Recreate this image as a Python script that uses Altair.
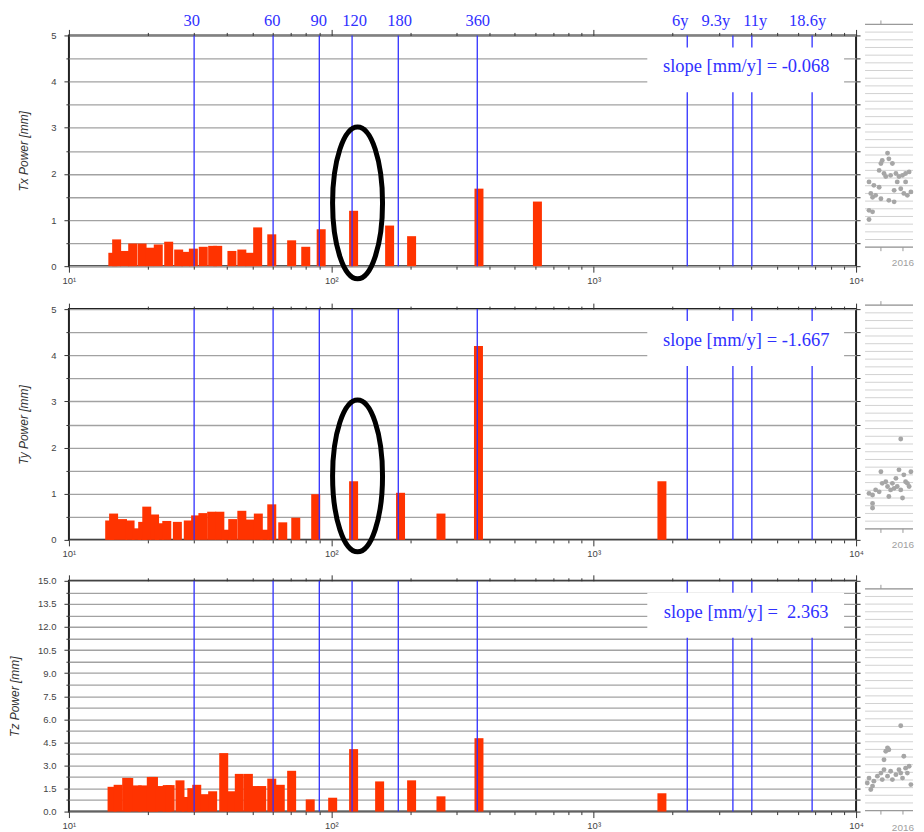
import altair as alt
import pandas as pd

# ---------------- data ----------------
tx_period = [14.7, 15.2, 16.3, 17.5, 19.0, 20.3, 21.9, 24.0, 26.2, 27.9, 29.8, 32.5, 35.3, 36.9,
             41.8, 45.6, 48.9, 52.4, 59.3, 70.6, 79.9, 91.5, 121.6, 166.8, 202.3, 365.4, 610.3]
tx_power = [0.29, 0.58, 0.33, 0.49, 0.49, 0.40, 0.47, 0.53, 0.36, 0.31, 0.38, 0.42, 0.44, 0.44,
            0.33, 0.36, 0.29, 0.84, 0.69, 0.56, 0.42, 0.80, 1.20, 0.88, 0.65, 1.68, 1.40]

ty_period = [14.3, 14.8, 16.0, 17.1, 18.1, 19.1, 19.8, 21.2, 22.1, 23.6, 25.9, 28.5, 30.4, 32.4,
             35.0, 37.6, 39.8, 42.1, 45.6, 49.1, 52.7, 55.7, 59.3, 65.3, 73.2, 87.2, 121.6, 183.6,
             261.8, 363.8, 1820.0]
ty_power = [0.42, 0.57, 0.45, 0.42, 0.25, 0.39, 0.72, 0.55, 0.36, 0.41, 0.39, 0.42, 0.53, 0.58,
            0.61, 0.61, 0.22, 0.45, 0.63, 0.44, 0.57, 0.22, 0.77, 0.38, 0.48, 0.99, 1.27, 1.02,
            0.57, 4.20, 1.27]

tz_period = [14.6, 15.4, 16.6, 16.9, 18.2, 19.1, 20.6, 21.0, 22.3, 23.7, 24.3, 26.5, 28.0, 29.4,
             30.7, 32.9, 35.3, 38.9, 41.8, 44.6, 48.3, 51.1, 54.3, 59.3, 63.9, 70.6, 83.1, 101.2,
             121.6, 152.8, 202.3, 261.8, 365.4, 1820.0]
tz_power = [1.61, 1.74, 2.19, 2.19, 1.70, 1.70, 2.25, 2.25, 1.66, 1.72, 1.72, 2.03, 0.95, 1.52,
            1.74, 1.13, 1.32, 3.80, 1.32, 2.45, 2.45, 1.66, 1.66, 2.14, 1.74, 2.65, 0.79, 0.90,
            4.06, 1.96, 2.03, 0.99, 4.77, 1.19]

slopes = ["slope [mm/y] = -0.068", "slope [mm/y] = -1.667", "slope [mm/y] = \u00a02.363"]
titles = ["Tx Power [mm]", "Ty Power [mm]", "Tz Power [mm]"]

ref_period = [30, 60, 90, 120, 180, 360, 2273, 3393, 4007, 6800]
ref_label = ["30", "60", "90", "120", "180", "360", "6y", "9.3y", "11y", "18.6y"]
ref_label_at = [29.4, 59.5, 89.5, 122.7, 182.0, 361.5, 2138, 2923, 4126, 6537]

# annotation ellipses (period, power) for panels 1 and 2
ellipse_period = [125.9, 125.9]
ellipse_power = [1.37, 1.385]

# fragments of the neighbouring time-series panels (decimal year, value)
f1_year = [2015.23, 2015.27, 2015.31, 2015.38, 2015.34, 2015.46, 2015.50, 2015.53, 2015.65, 2015.68,
           2015.76, 2015.57, 2015.61, 2015.72, 2015.84, 2015.91, 2015.99, 2016.06, 2016.14, 2016.21,
           2016.29, 2016.36, 2016.40, 2015.80, 2015.95, 2016.02, 2016.10, 2016.18, 2016.29, 2015.23,
           2015.31, 2015.23, 2015.50, 2015.68, 2015.80, 2015.46, 2015.87, 2016.06, 2016.21, 2016.36]
f1_val = [8.5, 7.0, 6.5, 6.75, 8.05, 7.8, 10.9, 11.3, 12.25, 11.5,
          10.9, 9.6, 9.2, 9.35, 9.6, 9.2, 9.35, 9.6, 9.8, 10.2,
          10.65, 10.9, 8.7, 7.4, 7.6, 7.0, 6.75, 7.2, 8.3, 4.8,
          4.6, 3.6, 6.3, 6.1, 5.9, 10.0, 8.5, 8.5, 9.2, 9.6]
f2_year = [2015.95, 2015.23, 2015.31, 2015.31, 2015.31, 2015.38, 2015.46, 2015.50, 2015.53, 2015.61,
           2015.65, 2015.68, 2015.72, 2015.76, 2015.80, 2015.84, 2015.87, 2015.91, 2015.95, 2015.99,
           2016.02, 2016.06, 2016.10, 2016.14, 2016.18, 2016.21, 2016.25, 2016.29, 2016.36, 2016.40]
f2_val = [11.65, 4.6, 4.4, 3.3, 2.7, 5.05, 4.8, 7.4, 5.9, 6.1,
          5.5, 4.2, 5.05, 5.9, 5.25, 6.55, 5.5, 7.65, 5.05, 4.0,
          7.0, 6.1, 5.9, 5.5, 7.4, 6.35, 5.7, 5.9, 5.05, 3.75]
f3_year = [2015.95, 2016.40, 2015.65, 2015.61, 2015.68, 2016.02, 2015.57, 2015.23, 2015.19, 2015.27,
           2015.31, 2015.34, 2015.42, 2015.50, 2015.57, 2015.53, 2015.65, 2015.72, 2015.76, 2015.84,
           2015.91, 2015.95, 2015.99, 2016.06, 2016.10, 2016.14, 2016.18, 2016.21, 2016.25, 2016.33,
           2016.36, 2016.40]
f3_val = [11.1, 9.3, 8.2, 7.75, 7.95, 7.1, 6.65, 4.25, 3.6, 2.75,
          3.2, 3.85, 4.5, 4.9, 5.35, 4.05, 4.5, 5.15, 4.05, 4.7,
          5.35, 4.9, 4.25, 5.55, 4.9, 5.8, 3.4, 4.7, 5.35, 4.05,
          4.9, 3.2]
frag_grid = list(range(30))
frag_ticks = [2015.5, 2016.0]
frag_tick_label = ["2016"]
frag_domain = [2015.14, 2016.228]   # visible (cropped) part of the neighbouring panel

# ---------------- styling ----------------
BLUE = "#3030ff"
RED = "#ff3300"
SERIF = "Liberation Serif"
SANS = "Liberation Sans"
W, H = 788, 231
FX0, FX1 = 797, 845
LOGX = alt.Scale(type="log", domain=[10, 10000], nice=False, padding=0)
XVALS = [m * 10 ** e for e in range(1, 4) for m in range(1, 10)] + [10000]
MAJOR_X = "indexof([10, 100, 1000, 10000], datum.value) >= 0"
X_LABELS = ("datum.value == 10 ? '10\u00b9' : datum.value == 100 ? '10\u00b2' : "
            "datum.value == 1000 ? '10\u00b3' : datum.value == 10000 ? '10\u2074' : ''")


def panel(periods, powers, ymax, ystep, lstep, fmt, title, slope, title_x,
          ell=None, top_labels=False, frag=None):
    df = pd.DataFrame({"period": periods, "power": powers})
    n = int(round(ymax / ystep))
    yvals = [round(i * ystep, 4) for i in range(n + 1)]
    major_y = f"abs(datum.value / {lstep} - round(datum.value / {lstep})) < 1e-6"
    yscale = alt.Scale(domain=[0, ymax], nice=False, zero=True, padding=0)

    bars = alt.Chart(df).mark_bar(color=RED, size=9, orient="vertical").encode(
        x=alt.X("period:Q", scale=LOGX, axis=alt.Axis(
            orient="bottom", values=XVALS, labelExpr=X_LABELS, title=None, grid=False,
            domain=False, tickColor="#333",
            tickSize={"condition": {"test": MAJOR_X, "value": 6}, "value": 3},
            labelFont=SANS, labelFontSize=9.5, labelColor="#444", labelPadding=3,
            labelFlush=False, labelOverlap=False)),
        y=alt.Y("power:Q", scale=yscale, axis=alt.Axis(
            orient="left", values=yvals,
            labelExpr=f"{major_y} ? format(datum.value, '{fmt}') : ''",
            grid=True, gridColor="#a2a2a2", gridWidth=1.3, domain=False, tickColor="#333",
            tickSize={"condition": {"test": major_y, "value": 5}, "value": 3},
            labelFont=SANS, labelFontSize=9.5, labelColor="#444", labelPadding=8,
            labelOverlap=False, labelFlush=False,
            title=title, titleFont=SANS, titleFontSize=12, titleFontStyle="italic",
            titleFontWeight="normal", titleColor="#333", titleAngle=270,
            titleAlign="center", titleBaseline="middle", titleX=title_x, titleY=H / 2)),
    )
    right = alt.Chart(df).mark_point(opacity=0).encode(
        x=alt.X("period:Q", scale=LOGX, axis=None),
        y=alt.Y("power:Q", scale=yscale, axis=alt.Axis(
            orient="right", values=yvals, labels=False, grid=False, domain=False,
            tickColor="#333", tickSize=4, title=None)),
    )
    rdf = pd.DataFrame({"period": ref_period})
    rules = alt.Chart(rdf).mark_rule(color=BLUE, strokeWidth=1.3).encode(
        x=alt.X("period:Q", scale=LOGX, axis=alt.Axis(
            orient="top", values=XVALS, labels=False, grid=False, domain=False,
            tickColor="#333",
            tickSize={"condition": {"test": MAJOR_X, "value": 6}, "value": 3}, title=None)),
    )
    sdf = pd.DataFrame({"s": [slope]})
    box = alt.Chart(sdf).mark_rect(color="white").encode(
        x=alt.value(579), x2=alt.value(776), y=alt.value(12), y2=alt.value(57))
    stext = alt.Chart(sdf).mark_text(font=SERIF, fontSize=18.5, color=BLUE,
                                     align="center", baseline="middle").encode(
        x=alt.value(678), y=alt.value(31), text="s:N")
    layers = [bars, right, rules, box, stext]
    if top_labels:
        ldf = pd.DataFrame({"at": ref_label_at, "lab": ref_label})
        layers.append(alt.Chart(ldf).mark_text(font=SERIF, fontSize=16.5, color=BLUE,
                                               align="center", baseline="middle").encode(
            x=alt.X("at:Q", scale=LOGX, axis=None), y=alt.value(-14), text="lab:N"))
    if ell is not None:
        a = 0.329
        k = 0.5523
        path = (f"M 0 -1 C {k*a:.4f} -1 {a} -{k} {a} 0 C {a} {k} {k*a:.4f} 1 0 1 "
                f"C -{k*a:.4f} 1 -{a} {k} -{a} 0 C -{a} -{k} -{k*a:.4f} -1 0 -1 Z")
        edf = pd.DataFrame({"period": [ell[0]], "power": [ell[1]]})
        layers.append(alt.Chart(edf).mark_point(shape=path, size=23104, filled=False,
                                                stroke="black", strokeWidth=5, opacity=1).encode(
            x=alt.X("period:Q", scale=LOGX, axis=None),
            y=alt.Y("power:Q", scale=yscale, axis=None)))
    main = alt.layer(*layers).resolve_axis(x="independent", y="independent")

    years, vals, top, bottom, laby = frag
    FX = alt.Scale(domain=frag_domain, range=[FX0, FX1], nice=False, zero=False)
    FY = alt.Scale(domain=[0, 29], range=[bottom, top], nice=False, zero=False)
    gdf = pd.DataFrame({"g": frag_grid})
    fgrid = alt.Chart(gdf).mark_rule(color="#d2d2d2", strokeWidth=1).encode(
        y=alt.Y("g:Q", scale=FY, axis=None), x=alt.value(FX0), x2=alt.value(FX1))
    edge = alt.Chart(pd.DataFrame({"g": [frag_grid[0], frag_grid[-1]]})).mark_rule(
        color="#9a9a9a", strokeWidth=1.2).encode(
        y=alt.Y("g:Q", scale=FY, axis=None), x=alt.value(FX0), x2=alt.value(FX1))
    tdf = pd.DataFrame({"t": frag_ticks})
    tb = alt.Chart(tdf).mark_rule(color="#9a9a9a").encode(
        x=alt.X("t:Q", scale=FX, axis=None), y=alt.value(bottom), y2=alt.value(bottom + 4))
    tt = alt.Chart(tdf.iloc[:1]).mark_rule(color="#9a9a9a").encode(
        x=alt.X("t:Q", scale=FX, axis=None), y=alt.value(top - 4), y2=alt.value(top))
    pdf = pd.DataFrame({"yr": years, "v": vals})
    pts = alt.Chart(pdf).transform_filter(
        f"datum.yr <= {frag_domain[1] - 0.02}").mark_circle(
        size=24, color="#a6a6a6", opacity=1).encode(
        x=alt.X("yr:Q", scale=FX, axis=None), y=alt.Y("v:Q", scale=FY, axis=None))
    ldf2 = pd.DataFrame({"yr": [frag_ticks[1]], "lab": frag_tick_label})
    flab = alt.Chart(ldf2).mark_text(font=SANS, fontSize=10, color="#a0a0a0",
                                     baseline="middle").encode(
        x=alt.X("yr:Q", scale=FX, axis=None), y=alt.value(laby), text="lab:N")
    fragc = alt.layer(fgrid, edge, tb, tt, pts, flab)

    return alt.layer(main, fragc).resolve_scale(x="independent", y="independent").properties(
        width=W, height=H)


p1 = panel(tx_period, tx_power, 5, 0.5, 1, "d", titles[0], slopes[0], -45,
           ell=(ellipse_period[0], ellipse_power[0]), top_labels=True,
           frag=(f1_year, f1_val, -11, 212, 228))
p2 = panel(ty_period, ty_power, 5, 0.5, 1, "d", titles[1], slopes[1], -45,
           ell=(ellipse_period[1], ellipse_power[1]),
           frag=(f2_year, f2_val, -4, 220, 236))
p3 = panel(tz_period, tz_power, 15, 0.75, 1.5, ".1f", titles[2], slopes[2], -54,
           frag=(f3_year, f3_val, 8, 230, 247))

chart = alt.vconcat(p1, p2, p3, spacing=9).properties(
    padding={"left": 0, "top": 4, "right": 0, "bottom": 0}
).configure_view(stroke="#222", strokeWidth=2)

chart.save("out.html", embed_options={"renderer": "svg", "actions": False})
